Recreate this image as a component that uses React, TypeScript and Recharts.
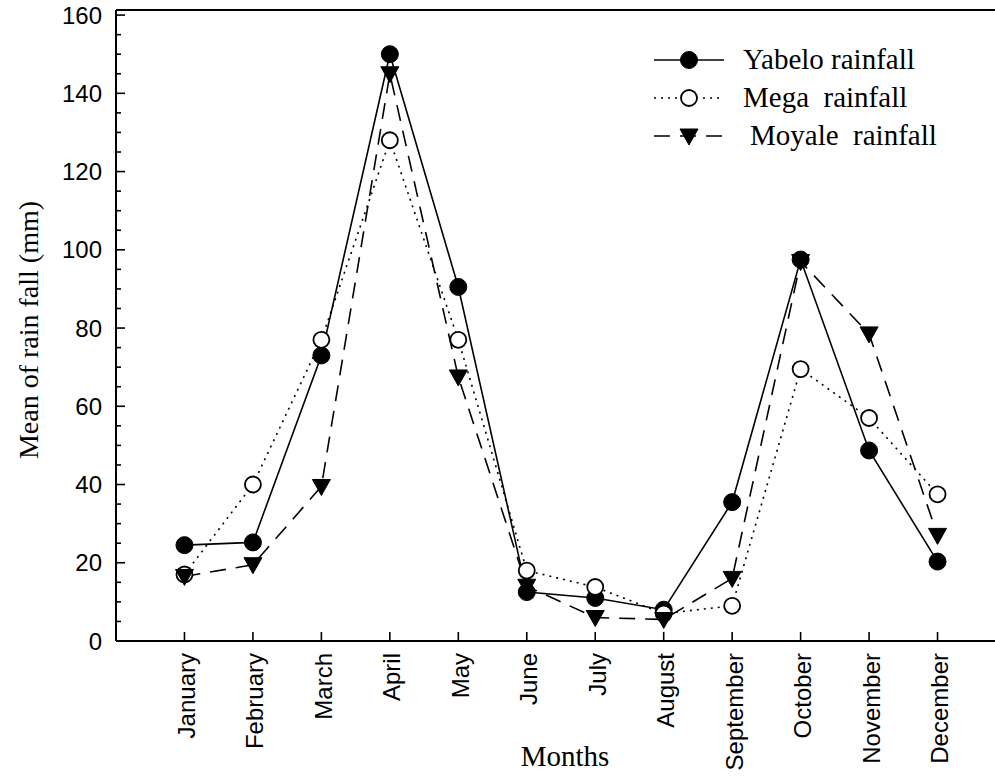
import React from 'react';
import { Label, Line, LineChart, ReferenceLine, XAxis, YAxis } from 'recharts';

// Monthly mean rainfall (mm) at three stations
const months = [
  'January', 'February', 'March', 'April', 'May', 'June',
  'July', 'August', 'September', 'October', 'November', 'December',
];
const yabeloRain = [24.5, 25.2, 73, 150, 90.5, 12.5, 11, 8, 35.5, 97.5, 48.7, 20.3];
const megaRain = [17, 40, 77, 128, 77, 18, 13.8, 7, 9, 69.5, 57, 37.5];
const moyaleRain = [16.5, 19.5, 39.5, 145, 67.5, 14, 6, 5.5, 16, 97, 78.5, 27];

const yTicks = Array.from({ length: 33 }, (_, i) => i * 5);
const xTicks = months.map((_, i) => i + 1);
const Y_MAX = 161.3;

const data = months.map((month, i) => ({
  pos: i + 1,
  month,
  yabelo: yabeloRain[i],
  mega: megaRain[i],
  moyale: moyaleRain[i],
}));

const SANS = '"Liberation Sans", Arial, Helvetica, sans-serif';
const SERIF = '"Liberation Serif", "Times New Roman", serif';

const FilledDot = (props: any) => (
  <circle key={`y-${props.index}`} cx={props.cx} cy={props.cy} r={8.5} fill="#000" stroke="#000" strokeWidth={1} />
);
const OpenDot = (props: any) => (
  <circle key={`m-${props.index}`} cx={props.cx} cy={props.cy} r={8} fill="#fff" stroke="#000" strokeWidth={1.8} />
);
const TriDot = (props: any) => {
  const { cx, cy } = props;
  return (
    <path
      key={`t-${props.index}`}
      d={`M${cx - 9},${cy - 7} L${cx + 9},${cy - 7} L${cx},${cy + 9} Z`}
      fill="#000"
      stroke="#000"
      strokeWidth={1}
    />
  );
};

// y ticks point inward; labels only on multiples of 20
const YTick = (props: any) => {
  const { x, y, payload } = props;
  const axisX = x + 8;
  const major = payload.value % 20 === 0;
  return (
    <g>
      <line x1={axisX} y1={y} x2={axisX + (major ? 9 : 5)} y2={y} stroke="#000" strokeWidth={1.6} />
      {major && (
        <text x={axisX - 14} y={y} textAnchor="end" dominantBaseline="central" fontFamily={SANS} fontSize={24} fill="#000">
          {payload.value}
        </text>
      )}
    </g>
  );
};

const XTick = (props: any) => {
  const { x, y, payload } = props;
  const axisY = y - 8;
  return (
    <g>
      <line x1={x} y1={axisY} x2={x} y2={axisY - 9} stroke="#000" strokeWidth={1.6} />
      <text
        x={x + 2}
        y={axisY + 12}
        transform={`rotate(-90 ${x + 2} ${axisY + 12})`}
        textAnchor="end"
        dominantBaseline="central"
        fontFamily={SANS}
        fontSize={24}
        fill="#000"
      >
        {months[payload.value - 1]}
      </text>
    </g>
  );
};

const legendRows = [
  { name: 'Yabelo rainfall', dash: undefined, marker: 'filled', dy: 0, tx: 743 },
  { name: 'Mega  rainfall', dash: '2 5', marker: 'open', dy: 38, tx: 743 },
  { name: 'Moyale  rainfall', dash: '16 10', marker: 'tri', dy: 76, tx: 750 },
];

const LegendBox = () => (
  <svg width={360} height={130} style={{ position: 'absolute', left: 640, top: 30, overflow: 'visible' }}>
    {legendRows.map((r) => {
      const cy = 30 + r.dy;
      const mx = 49;
      return (
        <g key={r.name}>
          <line x1={14} y1={cy} x2={84} y2={cy} stroke="#000" strokeWidth={1.6} strokeDasharray={r.dash} />
          {r.marker === 'filled' && <FilledDot cx={mx} cy={cy} index={0} />}
          {r.marker === 'open' && <OpenDot cx={mx} cy={cy} index={0} />}
          {r.marker === 'tri' && <TriDot cx={mx} cy={cy} index={0} />}
          <text x={r.tx - 640} y={cy + 9} fontFamily={SERIF} fontSize={29} fill="#000" style={{ whiteSpace: 'pre' }}>
            {r.name}
          </text>
        </g>
      );
    })}
  </svg>
);

export default function App() {
  return (
    <div style={{ position: 'absolute', left: 0, top: 0, width: 995, height: 778, overflow: 'hidden', background: '#fff' }}>
      <LineChart width={1010} height={778} data={data} margin={{ top: 10, right: 4, bottom: 0, left: 56 }}>
        <XAxis
          dataKey="pos"
          type="number"
          domain={[0, 13]}
          ticks={xTicks}
          interval={0}
          height={137}
          axisLine={{ stroke: '#000', strokeWidth: 2 }}
          tickLine={false}
          tick={<XTick />}
        >
          <Label
            content={() => (
              <text x={565} y={766} textAnchor="middle" fontFamily={SERIF} fontSize={29} fill="#000">
                Months
              </text>
            )}
          />
        </XAxis>
        <YAxis
          type="number"
          domain={[0, Y_MAX]}
          ticks={yTicks}
          interval={0}
          width={60}
          axisLine={{ stroke: '#000', strokeWidth: 2 }}
          tickLine={false}
          tick={<YTick />}
        >
          <Label
            content={() => (
              <text
                x={28}
                y={330}
                transform="rotate(-90 28 330)"
                textAnchor="middle"
                dominantBaseline="central"
                fontFamily={SERIF}
                fontSize={28}
                fill="#000"
              >
                Mean of rain fall (mm)
              </text>
            )}
          />
        </YAxis>
        {/* top frame edge */}
        <ReferenceLine y={Y_MAX} stroke="#000" strokeWidth={2} ifOverflow="visible" />
        <Line dataKey="yabelo" name="Yabelo rainfall" stroke="#000" strokeWidth={1.6} dot={FilledDot} isAnimationActive={false} />
        <Line dataKey="mega" name="Mega  rainfall" stroke="#000" strokeWidth={1.6} strokeDasharray="2 5" dot={OpenDot} isAnimationActive={false} />
        <Line dataKey="moyale" name="Moyale  rainfall" stroke="#000" strokeWidth={1.6} strokeDasharray="16 10" dot={TriDot} isAnimationActive={false} />
      </LineChart>
      <LegendBox />
    </div>
  );
}
